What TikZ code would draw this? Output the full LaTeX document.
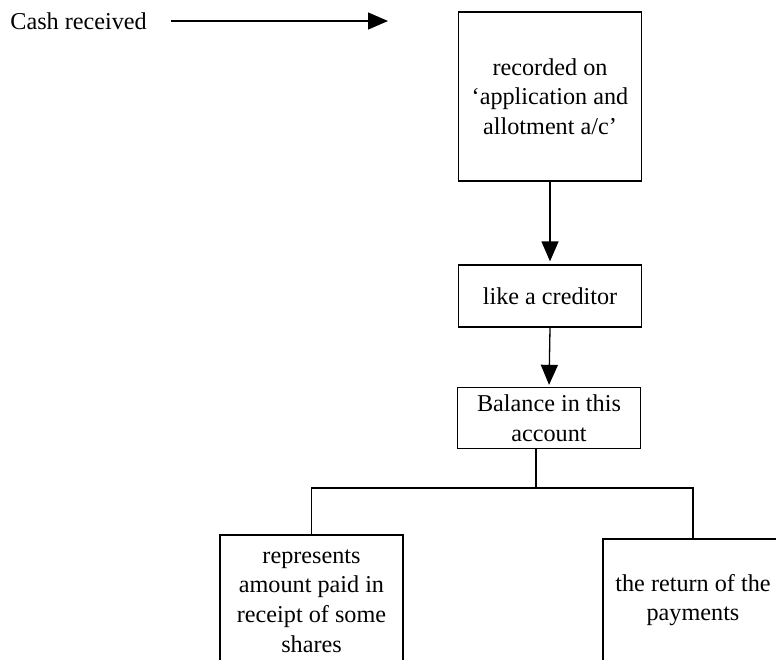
\documentclass[tikz,border=0pt]{standalone}
\usepackage{fontspec}
\setmainfont{Liberation Serif}
\usetikzlibrary{arrows.meta, positioning}

\begin{document}
\begin{tikzpicture}[x=0.5pt, y=-0.5pt,
    every node/.style={font=\fontsize{12.1}{14.8}\selectfont},
    box/.style={draw, line width=0.65pt, align=center, minimum width=91.5pt, inner sep=0pt},
    flow/.style={line width=0.65pt, -{Triangle[length=10pt, width=8.5pt]}},
    link/.style={line width=0.65pt}]
    \useasboundingbox (0,0) rectangle (776,659);
    \clip (0,0) rectangle (776,659);
    % incoming cash
    \node[anchor=west, inner sep=0pt] (cash) at (10,21) {Cash received};
    \coordinate (cashtip) at (388,21);
    \draw[flow, shorten <=12pt] (cash.east) -- (cashtip);
    % main column
    \node[box, minimum height=84.5pt] (recd) at (550,96.5) {recorded on\\‘application and\\allotment a/c’};
    \node[box, minimum height=31pt] (cred) at (550,296) {like a creditor};
    \node[box, minimum height=30.5pt] (bal) at (549,418) {Balance in this\\account};
    \draw[flow, shorten >=1.5pt] (recd.south) -- (cred.north);
    \draw[flow, shorten >=1pt] (cred.south) -- (bal.north);
    % the two outcomes, hanging off one bar
    \node[box, minimum height=66pt] (paid) at (311.5,601) {represents\\amount paid in\\receipt of some\\shares};
    \node[box, minimum width=90pt, minimum height=61pt] (back) at (693,600) {the return of the\\payments};
    \coordinate (split) at (536,488);
    \draw[link] (bal.south -| split) -- (split);
    \draw[link] (paid.north) -- (paid.north |- split) -- (back.north |- split) -- (back.north);
\end{tikzpicture}
\end{document}
